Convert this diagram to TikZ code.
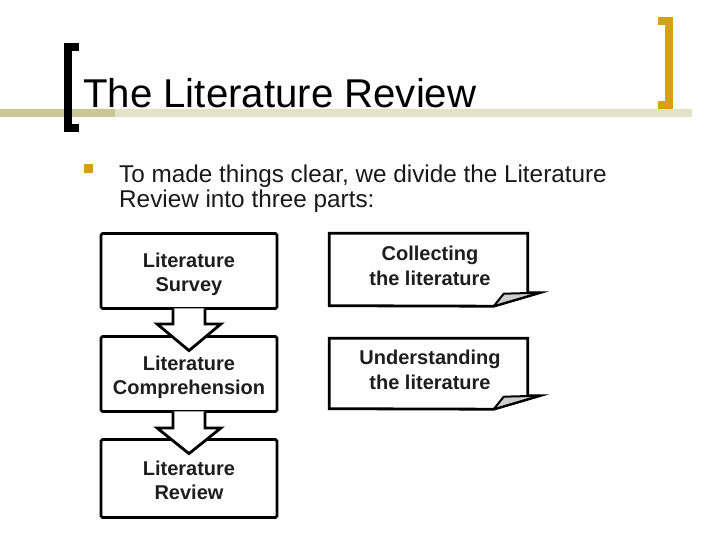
\documentclass[tikz,border=0pt]{standalone}
\usepackage{fontspec}
\setmainfont{Liberation Sans}
\usetikzlibrary{calc}
\definecolor{gold}{RGB}{212,160,23}
\definecolor{olivedark}{RGB}{200,200,150}
\definecolor{olivelight}{RGB}{226,226,198}
\definecolor{txt}{RGB}{30,30,30}
\definecolor{flapgray}{RGB}{205,205,205}
\begin{document}
\begin{tikzpicture}[x=1pt,y=-1pt,
  stepbox/.style={draw=black, line width=2.8pt, rounded corners=1.5pt, fill=white,
    minimum width=176pt, inner sep=0pt},
  boxtext/.style={font=\fontsize{20}{24.5}\selectfont\bfseries, text=txt, align=center, inner sep=0pt},
  blockarrow/.style={draw=black, line width=2.8pt, fill=white, line join=miter},
  callbox/.style={minimum width=198pt, inner sep=0pt},
  callout/.style={draw=black, line width=2.8pt, fill=white, line join=miter},
  flap/.style={draw=black, line width=2pt, fill=flapgray, line join=round},
  bracket/.style={line width=8pt, line join=miter, line cap=butt},
]
\useasboundingbox (0,0) rectangle (728,546);
% stripe
\fill[olivedark] (0,109) rectangle (115,117);
\fill[olivelight] (115,109) rectangle (692,117);
% brackets
\draw[bracket, black] (79,47) -- (67.5,47) -- (67.5,128) -- (79,128);
\draw[bracket, gold] (658,21) -- (669,21) -- (669,105) -- (658,105);
% title
\node[anchor=base west, inner sep=0pt, font=\fontsize{40.2}{48}\selectfont] (title) at (83,107) {The Literature Review};
% bullet
\node[fill=gold, minimum size=9pt, inner sep=0pt] (bul) at (88.5,168) {};
\node[anchor=base west, inner sep=0pt, font=\fontsize{24.3}{28}\selectfont, text=black!90] (l1) at (119,182) {To made things clear, we divide the Literature};
\node[anchor=base west, inner sep=0pt, font=\fontsize{24.3}{28}\selectfont, text=black!90] (l2) at (119,207) {Review into three parts:};
% left column boxes
\node[stepbox, minimum height=75pt] (b1) at (189,271) {};
\node[stepbox, minimum height=75pt] (b2) at (189,374) {};
\node[stepbox, minimum height=78pt] (b3) at (189,478.5) {};
% block arrows
\draw[blockarrow] ($(b1.south)+(-16,-1.6)$) -- ($(b1.south)+(-16,14)$) -- ($(b1.south)+(-32,14)$)
  -- ($(b2.north)+(0,15.5)$) -- ($(b1.south)+(32,14)$) -- ($(b1.south)+(16,14)$) -- ($(b1.south)+(16,-1.6)$);
\draw[blockarrow] ($(b2.south)+(-16,-1.6)$) -- ($(b2.south)+(-16,15)$) -- ($(b2.south)+(-32,15)$)
  -- ($(b3.north)+(0,15.5)$) -- ($(b2.south)+(32,15)$) -- ($(b2.south)+(16,15)$) -- ($(b2.south)+(16,-1.6)$);
% box texts
\node[boxtext] (t1) at ($(b1.center)+(0,3.5)$) {Literature\\Survey};
\node[boxtext] (t2) at ($(b2.center)+(0,3.5)$) {Literature\\Comprehension};
\node[boxtext] (t3) at ($(b3.center)+(0,2)$) {Literature\\Review};
% callout boxes
\node[callbox, minimum height=72pt] (cA) at (428.5,269.5) {};
\draw[callout] (cA.north west) -- (cA.north east) -- ($(cA.south east)+(0,-13)$)
  -- ($(cA.south east)+(12,-13)$) -- ($(cA.south east)+(-34,0.5)$) -- (cA.south west) -- cycle;
\draw[flap] ($(cA.south east)+(-24,-12)$) -- ($(cA.south east)+(12,-13)$) -- ($(cA.south east)+(-34,0.5)$) -- cycle;
\node[boxtext] (tA) at (430,266) {Collecting\\the literature};
\node[callbox, minimum height=70pt] (cB) at (428.5,373.5) {};
\draw[callout] (cB.north west) -- (cB.north east) -- ($(cB.south east)+(0,-13)$)
  -- ($(cB.south east)+(12,-13)$) -- ($(cB.south east)+(-34,0.5)$) -- (cB.south west) -- cycle;
\draw[flap] ($(cB.south east)+(-24,-12)$) -- ($(cB.south east)+(12,-13)$) -- ($(cB.south east)+(-34,0.5)$) -- cycle;
\node[boxtext] (tB) at (430,370) {Understanding\\the literature};
\end{tikzpicture}
\end{document}
